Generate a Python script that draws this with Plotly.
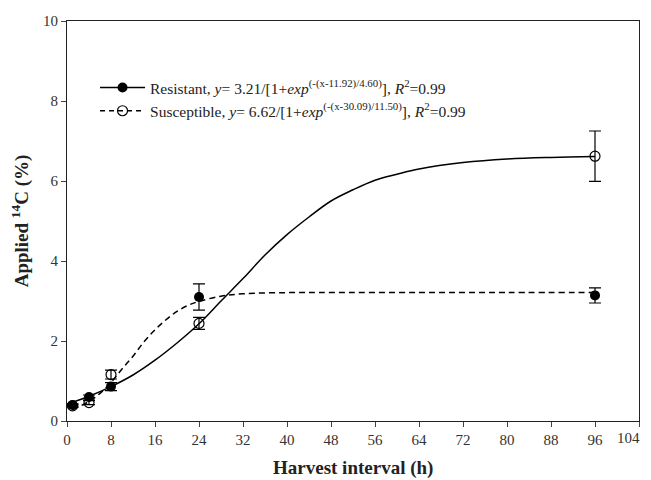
import plotly.graph_objects as go

# Measured data (harvest interval in h, applied 14C %)
hours = [1, 4, 8, 24, 96]
resistant_y = [0.40, 0.60, 0.86, 3.10, 3.14]
resistant_err = [0.03, 0.05, 0.10, 0.33, 0.19]
susceptible_y = [0.38, 0.46, 1.16, 2.44, 6.62]
susceptible_err = [0.03, 0.05, 0.11, 0.15, 0.63]

# Fitted curves
solid_x = [1, 4, 8, 12, 16, 20, 24, 28, 32, 36, 40, 44, 48, 52, 56, 60, 64, 72, 80, 88, 96]
solid_y = [0.47, 0.62, 0.86, 1.15, 1.52, 1.95, 2.43, 3.00, 3.56, 4.15, 4.66, 5.10, 5.50, 5.78, 6.02, 6.17, 6.30, 6.46, 6.55, 6.59, 6.61]
dashed_x = [1, 4, 6, 8, 10, 12, 14, 16, 18, 20, 22, 24, 28, 32, 40, 48, 64, 80, 96]
dashed_y = [0.28, 0.49, 0.69, 0.96, 1.30, 1.62, 1.98, 2.28, 2.53, 2.74, 2.89, 2.99, 3.12, 3.18, 3.21, 3.21, 3.21, 3.21, 3.21]

x_ticks = [0, 8, 16, 24, 32, 40, 48, 56, 64, 72, 80, 88, 96, 104]
x_ticktext = ["0", "8", "16", "24", "32", "40", "48", "56", "64", "72", "80", "88", "96", ""]
last_tick_label = "104"
y_ticks = [0, 2, 4, 6, 8, 10]
x_title = "<b>Harvest interval (h)</b>"
y_title = "<b>Applied <sup>14</sup>C (%)</b>"

leg_res = "Resistant, <i>y</i>= 3.21/[1+<i>exp</i><sup>(-(x-11.92)/4.60)</sup>], <i>R</i><sup>2</sup>=0.99"
leg_sus = "Susceptible, <i>y</i>= 6.62/[1+<i>exp</i><sup>(-(x-30.09)/11.50)</sup>], <i>R</i><sup>2</sup>=0.99"

fig = go.Figure()

fig.add_trace(go.Scatter(x=solid_x, y=solid_y, mode="lines", line=dict(color="black", width=1.5, shape="spline"),
                         showlegend=False, hoverinfo="skip"))
fig.add_trace(go.Scatter(x=dashed_x, y=dashed_y, mode="lines",
                         line=dict(color="black", width=1.5, dash="6px,4px", shape="spline"),
                         showlegend=False, hoverinfo="skip"))

fig.add_trace(go.Scatter(x=hours, y=susceptible_y, mode="markers",
                         marker=dict(symbol="circle-open", size=10, color="black", line=dict(width=1.2)),
                         error_y=dict(type="data", array=susceptible_err, color="black", thickness=1.2, width=6),
                         showlegend=False))
fig.add_trace(go.Scatter(x=hours, y=resistant_y, mode="markers",
                         marker=dict(symbol="circle", size=10, color="black"),
                         error_y=dict(type="data", array=resistant_err, color="black", thickness=1.2, width=6),
                         showlegend=False))

# legend entries
fig.add_trace(go.Scatter(x=[None], y=[None], mode="lines+markers", name=leg_res,
                         line=dict(color="black", width=1.5),
                         marker=dict(symbol="circle", size=10, color="black")))
fig.add_trace(go.Scatter(x=[None], y=[None], mode="lines+markers", name=leg_sus,
                         line=dict(color="black", width=1.5, dash="5px,4px"),
                         marker=dict(symbol="circle-open", size=10, color="black", line=dict(width=1.2))))

font_family = "Liberation Serif, Times New Roman, serif"

fig.add_annotation(x=104, xref="x", y=0, yref="paper", text=last_tick_label, showarrow=False,
                   xanchor="right", yanchor="top", xshift=3, yshift=-7,
                   font=dict(family=font_family, size=15, color="#333"))
fig.add_annotation(x=0.5, xref="paper", y=0, yref="paper", text=x_title, showarrow=False,
                   xanchor="center", yanchor="middle", yshift=-47,
                   font=dict(family=font_family, size=19, color="#222"))

fig.update_layout(
    width=643, height=472,
    margin=dict(l=59, r=12, t=13, b=59),
    paper_bgcolor="white", plot_bgcolor="white",
    font=dict(family=font_family, size=15, color="#222"),
    showlegend=True,
    legend=dict(x=0.049, y=0.875, xanchor="left", yanchor="top", bgcolor="rgba(0,0,0,0)",
                font=dict(family=font_family, size=15.5, color="#222"), tracegroupgap=0,
                itemwidth=45),
    xaxis=dict(range=[0, 104], tickmode="array", tickvals=x_ticks, ticktext=x_ticktext,
               ticks="outside", ticklen=5,
               showline=True, linecolor="#222", linewidth=1.2, mirror=True, showgrid=False, zeroline=False,
               automargin=False,
               tickfont=dict(family=font_family, size=15, color="#333")),
    yaxis=dict(range=[0, 10], tickmode="array", tickvals=y_ticks, ticks="outside", ticklen=5,
               showline=True, linecolor="#222", linewidth=1.2, mirror=True, showgrid=False, zeroline=False,
               automargin=False,
               tickfont=dict(family=font_family, size=15, color="#333"),
               title=dict(text=y_title, font=dict(family=font_family, size=19, color="#222"))),
)

fig.write_html("out.html")
